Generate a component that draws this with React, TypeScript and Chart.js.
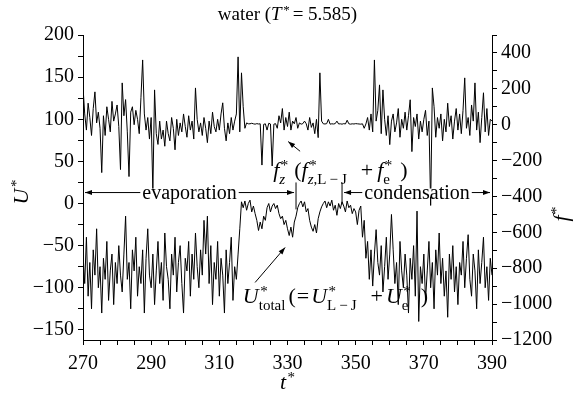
import React, { useEffect, useRef } from "react";
import { Chart, registerables } from "chart.js";

Chart.register(...registerables);

// time grid of both series
const T_START = 270;
const T_STEP = 0.5;

// U*_total (left axis)
const U_TOTAL = [
  -60, -95, -40, -110, -70, -125, -55, -85, -30, -100, // 270
  -75, -130, -65, -90, -45, -115, -80, -60, -120, -70, // 275
  -95, -50, -85, -105, -60, -15, -90, -70, -125, -55, // 280
  -80, -40, -110, -75, -95, -55, -130, -65, -30, -85, // 285
  -100, -60, -120, -80, -45, -95, -70, -115, -35, -75, // 290
  -90, -125, -60, -85, -40, -105, -70, -50, -95, -130, // 295
  -65, -80, -45, -110, -60, -90, -35, -75, -100, -55, // 300
  -85, -20, -60, -15, -95, -50, -120, -70, -90, -45, // 305
  -110, -65, -85, -130, -55, -95, -70, -40, -115, -75, // 310
  -90, -60, -30, 2, -5, 3, -8, 0, 4, -10, // 315
  -3, -12, -20, -32, -22, -30, -15, -20, -5, 0, // 320
  -10, -3, 0, -6, -2, -12, -18, -15, -25, -20, // 325
  -30, -38, -28, -40, -22, -15, -5, 0, 3, -4, // 330
  2, -10, -6, -20, -28, -33, -25, -35, -18, -10, // 335
  -4, 0, 3, -5, 2, -3, 4, -8, -2, -14, // 340
  0, -6, 2, -3, -10, 3, -5, -2, -12, -6, // 345
  -10, -25, -8, -3, -40, -20, -65, -45, -90, -55, // 350
  -98, -60, -31, -70, -85, -50, -105, -75, -40, -90, // 355
  -60, -13, -55, -95, -70, -120, -45, -80, -100, -60, // 360
  -85, -130, -65, -90, -50, -110, -9, -140, -75, -95, // 365
  -60, -115, -80, -45, -100, -70, -125, -55, -85, -35, // 370
  -95, -65, -110, -80, -135, -60, -90, -50, -105, -75, // 375
  -120, -70, -85, -45, -100, -65, -37, -90, -110, -60, // 380
  -80, -125, -55, -95, -70, -40, -100, -75, -115, -65, // 385
  -85, // 390
];

// f*_z (right axis)
const F_Z = [
  211, 60, -30, 120, 40, -60, 90, 183, 10, 70, // 270
  -20, -267, 50, -60, 100, 30, -40, 130, 20, 60, // 275
  110, -10, -250, 233, 50, 140, -40, -289, 70, 100, // 280
  0, 80, 30, -50, 150, 361, 60, -30, 40, -80, // 285
  40, -372, 194, -50, -110, 20, -80, -30, -120, 20, // 290
  -50, -90, 40, -20, -140, 30, -60, 10, -40, 60, // 295
  -10, -70, 50, -30, 20, -80, 205, 30, -40, 10, // 300
  -60, 40, -20, -100, 20, -50, 70, -10, -40, 30, // 305
  -30, 60, 122, -20, -90, 10, -50, 40, -30, 20, // 310
  60, 378, -40, 289, 100, -20, 10, 5, 5, 8, // 315
  5, 3, 6, 4, 5, -225, 2, 5, -30, 8, // 320
  4, -230, 3, 6, -20, 50, 10, 90, -30, 40, // 325
  -10, 70, -30, 20, 5, 40, -20, 10, 3, 6, // 330
  20, 5, -30, 40, -15, 10, -50, 30, -72, 289, // 335
  20, 5, 4, 6, 30, 3, 5, 4, 6, 20, // 340
  4, 5, 3, 6, 4, 25, 5, 3, 5, 4, // 345
  6, 5, 4, 3, 5, -20, 4, 40, -30, 60, // 350
  -40, 361, 20, 80, 222, -50, 194, 30, -60, 50, // 355
  -111, 20, 60, -40, 10, 90, -70, 30, -20, 70, // 360
  -30, 50, 139, -150, 40, -10, 60, -80, 20, -40, // 365
  30, 80, -60, 20, -450, 205, 100, -70, 40, -20, // 370
  60, -90, 30, -40, 120, -10, 50, -80, 20, 90, // 375
  -30, 60, -50, 80, 261, -20, 40, -60, 110, 20, // 380
  233, -30, 70, -100, 40, 178, -40, 90, -60, 30, // 385
  20, // 390
];

const X_TICKS = [270, 290, 310, 330, 350, 370, 390];
const U_TICKS = [-150, -100, -50, 0, 50, 100, 150, 200];
const F_TICKS = [-1200, -1000, -800, -600, -400, -200, 0, 200, 400];

const SERIF = '"Liberation Serif", "DejaVu Serif", serif';

type Sub = [string, boolean][];
type Seg = { t: string; it?: boolean; sup?: string; sub?: Sub; pre?: number };

function layoutRich(ctx: CanvasRenderingContext2D, segs: Seg[], size: number, subSize: number, draw: boolean, x0: number, y: number) {
  let cx = x0;
  for (const s of segs) {
    cx += s.pre || 0;
    ctx.font = `${s.it ? "italic " : ""}${size}px ${SERIF}`;
    if (draw) ctx.fillText(s.t, cx, y);
    cx += ctx.measureText(s.t).width;
    let sw = 0;
    let bw = 0;
    if (s.sup) {
      ctx.font = `${subSize}px ${SERIF}`;
      if (draw) ctx.fillText(s.sup, cx + 1.5, y - size * 0.32);
      sw = ctx.measureText(s.sup).width + 1.5;
    }
    if (s.sub) {
      let bx = cx;
      for (const [txt, it] of s.sub) {
        ctx.font = `${it ? "italic " : ""}${subSize}px ${SERIF}`;
        if (draw) ctx.fillText(txt, bx, y + size * 0.3);
        bx += ctx.measureText(txt).width;
      }
      bw = bx - cx;
    }
    cx += Math.max(sw, bw);
  }
  return cx - x0;
}

function drawRich(ctx: CanvasRenderingContext2D, segs: Seg[], x: number, y: number, size: number, subSize: number, align: "left" | "center" = "left") {
  ctx.textAlign = "left";
  ctx.textBaseline = "alphabetic";
  let x0 = x;
  if (align === "center") x0 = x - layoutRich(ctx, segs, size, subSize, false, 0, y) / 2;
  layoutRich(ctx, segs, size, subSize, true, x0, y);
}

function arrowHead(ctx: CanvasRenderingContext2D, x1: number, y1: number, x2: number, y2: number, len = 7, wid = 2.5) {
  const a = Math.atan2(y2 - y1, x2 - x1);
  ctx.beginPath();
  ctx.moveTo(x2, y2);
  ctx.lineTo(x2 - len * Math.cos(a) + wid * Math.sin(a), y2 - len * Math.sin(a) - wid * Math.cos(a));
  ctx.lineTo(x2 - len * Math.cos(a) - wid * Math.sin(a), y2 - len * Math.sin(a) + wid * Math.cos(a));
  ctx.closePath();
  ctx.fill();
}

function line(ctx: CanvasRenderingContext2D, x1: number, y1: number, x2: number, y2: number) {
  ctx.beginPath();
  ctx.moveTo(x1, y1);
  ctx.lineTo(x2, y2);
  ctx.stroke();
}

const annotPlugin = {
  id: "annot",
  afterDraw(chart: any) {
    const { ctx, scales } = chart;
    const x = scales.x;
    const y = scales.y;
    const ca = chart.chartArea;
    ctx.save();
    ctx.fillStyle = "#000";
    ctx.strokeStyle = "#000";
    ctx.lineWidth = 1;

    // title
    drawRich(
      ctx,
      [{ t: "water (" }, { t: "T", it: true, sup: "*" }, { t: "= 5.585)", pre: 3 }],
      (ca.left + ca.right) / 2,
      20,
      19,
      13,
      "center"
    );

    // axis titles
    ctx.save();
    ctx.translate(28, 192);
    ctx.rotate(-Math.PI / 2);
    drawRich(ctx, [{ t: "U", it: true, sup: "*" }], 0, 0, 22, 15, "center");
    ctx.restore();
    ctx.save();
    ctx.translate(568, 214);
    ctx.rotate(-Math.PI / 2);
    drawRich(ctx, [{ t: "f", it: true, sup: "*" }], 0, 0, 22, 15, "center");
    ctx.restore();
    drawRich(ctx, [{ t: "t", it: true, sup: "*" }], (ca.left + ca.right) / 2, 389, 22, 15, "center");

    // evaporation / condensation arrows
    const yA = y.getPixelForValue(13);
    const xL = x.getPixelForValue(270);
    const xSep1 = x.getPixelForValue(332.5);
    const xSep2 = x.getPixelForValue(346);
    const xR = x.getPixelForValue(390);
    line(ctx, xSep1, y.getPixelForValue(25), xSep1, y.getPixelForValue(-7));
    line(ctx, xSep2, y.getPixelForValue(25), xSep2, y.getPixelForValue(-1));
    line(ctx, xL + 2, yA, xSep1 - 2, yA);
    arrowHead(ctx, xL + 20, yA, xL + 2, yA);
    arrowHead(ctx, xSep1 - 20, yA, xSep1 - 2, yA);
    line(ctx, xSep2 + 2, yA, xR - 2, yA);
    arrowHead(ctx, xSep2 + 20, yA, xSep2 + 2, yA);
    arrowHead(ctx, xR - 20, yA, xR - 2, yA);

    ctx.font = `20px ${SERIF}`;
    const ev = "evaporation";
    const cd = "condensation";
    const evX = (xL + xSep1) / 2;
    const cdX = (xSep2 + xR) / 2;
    const evW = ctx.measureText(ev).width;
    const cdW = ctx.measureText(cd).width;
    ctx.fillStyle = "#fff";
    ctx.fillRect(evX - evW / 2 - 2, yA - 4, evW + 4, 8);
    ctx.fillRect(cdX - cdW / 2 - 2, yA - 4, cdW + 4, 8);
    ctx.fillStyle = "#000";
    ctx.textAlign = "center";
    ctx.textBaseline = "alphabetic";
    ctx.fillText(ev, evX, yA + 6);
    ctx.fillText(cd, cdX, yA + 6);

    // f label
    drawRich(
      ctx,
      [
        { t: "f", it: true, sup: "*", sub: [["z", true]] },
        { t: "(", pre: 6 },
        { t: "f", it: true, sup: "*", sub: [["z", true], [",L\u2009\u2212\u2009J", false]] },
        { t: "+", pre: 14 },
        { t: "f", it: true, sup: "*", sub: [["e", false]], pre: 4 },
        { t: ")", pre: 8 },
      ],
      x.getPixelForValue(325.8),
      y.getPixelForValue(31),
      22,
      15
    );
    line(ctx, x.getPixelForValue(333.7), y.getPixelForValue(62), x.getPixelForValue(330.2), y.getPixelForValue(73.5));
    arrowHead(ctx, x.getPixelForValue(333.7), y.getPixelForValue(62), x.getPixelForValue(330.2), y.getPixelForValue(73.5));

    // U label
    drawRich(
      ctx,
      [
        { t: "U", it: true, sup: "*", sub: [["total", false]] },
        { t: "(", pre: 3 },
        { t: "=", pre: 1 },
        { t: "U", it: true, sup: "*", sub: [["L\u2009\u2212\u2009J", false]], pre: 2 },
        { t: "+", pre: 14 },
        { t: "U", it: true, sup: "*", sub: [["e", false]], pre: 3 },
        { t: ")", pre: 10 },
      ],
      x.getPixelForValue(316.9),
      y.getPixelForValue(-118),
      22,
      15
    );
    line(ctx, x.getPixelForValue(320.5), y.getPixelForValue(-93.7), x.getPixelForValue(329.3), y.getPixelForValue(-52.2));
    arrowHead(ctx, x.getPixelForValue(320.5), y.getPixelForValue(-93.7), x.getPixelForValue(329.3), y.getPixelForValue(-52.2));

    ctx.restore();
  },
};

function fmt(v: number) {
  return v < 0 ? "\u2212" + Math.abs(v) : String(v);
}

export default function App() {
  const ref = useRef<HTMLCanvasElement>(null);
  useEffect(() => {
    const canvas = ref.current;
    if (!canvas) return;
    const uData = U_TOTAL.map((v, i) => ({ x: T_START + i * T_STEP, y: v }));
    const fData = F_Z.map((v, i) => ({ x: T_START + i * T_STEP, y: v }));
    const tickFont = { family: SERIF, size: 20 };
    const axisCommon = {
      grid: { drawOnChartArea: false, drawTicks: true, tickLength: 5, color: "#000", lineWidth: 1 },
      border: { display: true, color: "#000", width: 1 },
    };
    const chart = new Chart(canvas, {
      type: "line",
      data: {
        datasets: [
          { data: uData, yAxisID: "y", borderColor: "#000", borderWidth: 1, pointRadius: 0, tension: 0 },
          { data: fData, yAxisID: "y2", borderColor: "#000", borderWidth: 1, pointRadius: 0, tension: 0 },
        ],
      },
      options: {
        responsive: false,
        animation: false,
        events: [],
        layout: { padding: { top: 35, left: 0, right: 0, bottom: 0 } },
        plugins: { legend: { display: false }, tooltip: { enabled: false }, title: { display: false } },
        scales: {
          x: {
            type: "linear",
            min: 270,
            max: 390,
            ...axisCommon,
            afterBuildTicks: (s: any) => {
              const t = [];
              for (let v = 270; v <= 390; v += 5) t.push({ value: v });
              s.ticks = t;
            },
            afterFit: (s: any) => {
              s.height = 56;
            },
            ticks: {
              font: tickFont,
              color: "#000",
              padding: 7,
              maxRotation: 0,
              autoSkip: false,
              callback: (v: any) => (X_TICKS.includes(v) ? String(v) : ""),
            },
          },
          y: {
            type: "linear",
            position: "left",
            min: -162,
            max: 200,
            ...axisCommon,
            afterBuildTicks: (s: any) => {
              const t = [];
              for (let v = -150; v <= 200; v += 25) t.push({ value: v });
              s.ticks = t;
            },
            afterFit: (s: any) => {
              s.width = 83;
            },
            ticks: {
              font: tickFont,
              color: "#000",
              padding: 4,
              autoSkip: false,
              callback: (v: any) => (U_TICKS.includes(v) ? fmt(v) : ""),
            },
          },
          y2: {
            type: "linear",
            position: "right",
            min: -1200,
            max: 500,
            ...axisCommon,
            afterBuildTicks: (s: any) => {
              const t = [];
              for (let v = -1200; v <= 500; v += 100) t.push({ value: v });
              s.ticks = t;
            },
            afterFit: (s: any) => {
              s.width = 84;
            },
            ticks: {
              font: tickFont,
              color: "#000",
              padding: 4,
              autoSkip: false,
              callback: (v: any) => (F_TICKS.includes(v) ? fmt(v) : ""),
            },
          },
        },
      },
      plugins: [annotPlugin],
    } as any);
    return () => chart.destroy();
  }, []);
  return (
    <div style={{ position: "fixed", left: 0, top: 0, width: 576, height: 396, background: "#fff" }}>
      <canvas ref={ref} width={576} height={396} style={{ display: "block" }} />
    </div>
  );
}
